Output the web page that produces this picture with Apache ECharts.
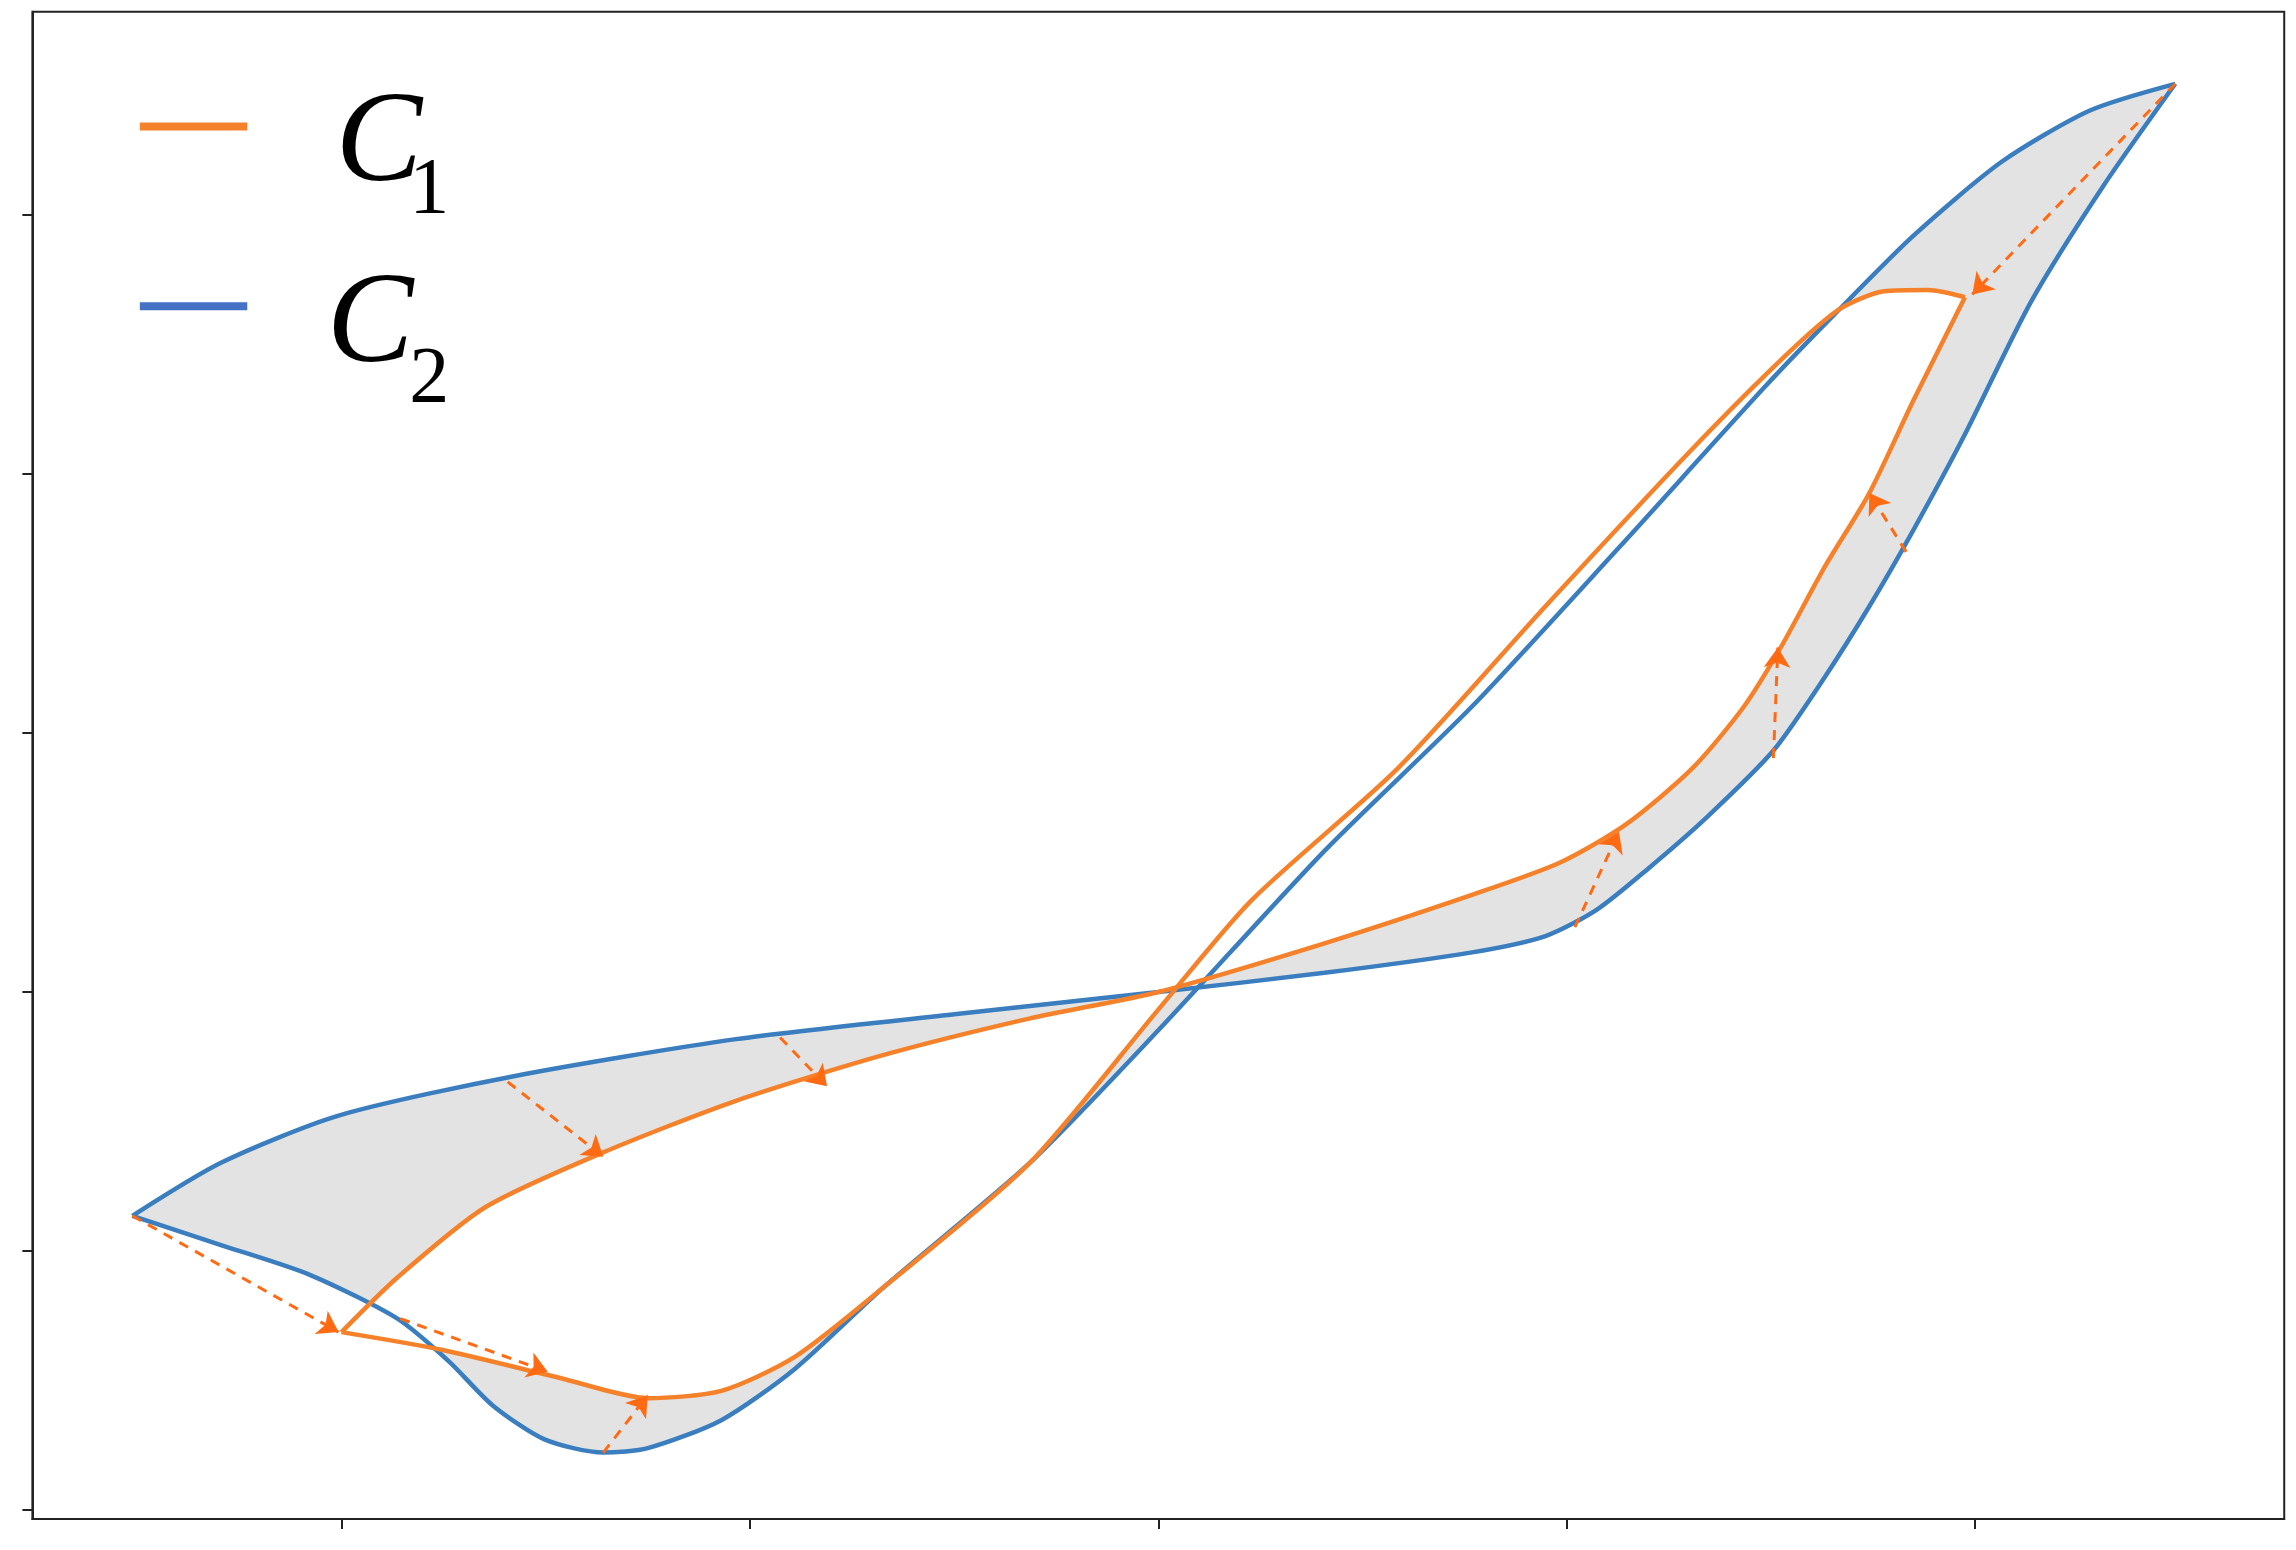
<!DOCTYPE html>
<html><head><meta charset="utf-8">
<script src="https://cdn.jsdelivr.net/npm/echarts@6/dist/echarts.min.js"></script>
<style>html,body{margin:0;padding:0;background:#fff}#c{width:2296px;height:1550px}</style>
</head><body><div id="c"></div>
<script>
// values in image units, converted to axis units (x: tick spacing 277.5 around 787; y: 176 around 674)
const X0=787, XS=277.5, Y0=674, YS=176;
function toData(p){return p.map(([a,b])=>[+((a-X0)/XS).toFixed(3), +((Y0-b)/YS).toFixed(3)]);}
const c2ArcA = toData([[90,826],[150,790],[230,758],[350,731],[500,706],[650,689],[787,674],[900,661],[1000,647],[1050,636],[1085,618],[1120,590],[1160,555],[1205,510],[1240,460],[1270,412],[1300,360],[1335,295],[1380,205],[1430,125],[1478,57]]);
const c2ArcB = toData([[1478,57],[1420,75],[1360,110],[1300,160],[1250,210],[1200,262],[1100,372],[1000,480],[900,578],[787,700],[700,790],[600,875],[540,930],[490,965],[440,984],[410,987],[370,978],[335,955],[305,925],[270,896],[210,866],[150,846],[90,826]]);
const c1ArcA = toData([[232,905],[270,868],[330,820],[410,783],[500,748],[600,717],[700,692],[787,674],[900,641],[1000,608],[1060,586],[1105,560],[1150,522],[1185,480],[1210,440],[1240,385],[1270,335],[1300,272],[1335,202]]);
const c1ArcB = toData([[1335,202],[1310,197],[1280,198],[1250,210],[1215,240],[1150,305],[1050,412],[950,522],[850,612],[787,686],[700,790],[600,875],[540,922],[490,945],[440,950],[380,936],[300,917],[232,905]]);
const arrows = [[[90,826],[230,905]],[[272,896],[372,932]],[[410,987],[440,948]],[[345,735],[410,786]],[[530,705],[562,738]],[[1070,630],[1100,565]],[[1205,515],[1208,440]],[[1295,375],[1270,335]],[[1478,57],[1340,200]]].map(toData);
const xTicks=[-2,-1,0,1,2], yTicks=[-2,-1,0,1,2,3];
const ORANGE='#f5822a', BLUE='#3a7ebf';
const S=2296/1560;
const poly=(pts,fill)=>({type:'custom',silent:true,z:1,data:[0],renderItem:(p,api)=>({type:'polygon',shape:{points:pts.map(q=>api.coord(q))},style:{fill:fill}})});
const line=(d,c,z)=>({type:'line',data:d,smooth:0.25,symbol:'none',lineStyle:{color:c,width:4.5},z:z,silent:true});
const chart=echarts.init(document.getElementById('c'));
chart.setOption({
 animation:false,
 grid:{left:22*S,right:2296-1552*S,top:8*S,bottom:1550-1032*S},
 xAxis:{type:'value',min:(22-X0)/XS,max:(1552-X0)/XS,splitLine:{show:false},axisLabel:{show:false},
   axisLine:{show:true,onZero:false,lineStyle:{color:'#222',width:2}},axisTick:{show:true,customValues:xTicks,length:10,lineStyle:{color:'#222',width:2}}},
 yAxis:{type:'value',min:(Y0-1032)/YS,max:(Y0-8)/YS,splitLine:{show:false},axisLabel:{show:false},
   axisLine:{show:true,onZero:false,lineStyle:{color:'#222',width:2}},axisTick:{show:true,customValues:yTicks,length:10,lineStyle:{color:'#222',width:2}}},
 graphic:[
  {type:'rect',shape:{x:22*S,y:8*S,width:1530*S,height:1024*S},style:{fill:'none',stroke:'#222',lineWidth:2},z:100},
  {type:'line',shape:{x1:95*S,y1:86*S,x2:168*S,y2:86*S},style:{stroke:ORANGE,lineWidth:8}},
  {type:'line',shape:{x1:95*S,y1:208*S,x2:168*S,y2:208*S},style:{stroke:'#4472c4',lineWidth:8}},
  {type:'text',left:228*S,top:55*S,style:{text:'C',font:'italic 130px "Liberation Serif"',fill:'#000'}},
  {type:'text',left:278*S,top:103*S,style:{text:'1',font:'80px "Liberation Serif"',fill:'#000'}},
  {type:'text',left:222*S,top:178*S,style:{text:'C',font:'italic 130px "Liberation Serif"',fill:'#000'}},
  {type:'text',left:278*S,top:232*S,style:{text:'2',font:'80px "Liberation Serif"',fill:'#000'}},
  {type:'text',left:214*S,top:775*S,style:{text:'Δ',font:'62px "Liberation Serif"',fill:'#000'}},
  {type:'text',left:250*S,top:775*S,style:{text:'S',font:'italic 62px "Liberation Serif"',fill:'#000'}}
 ],
 series:[
  poly(c2ArcA.concat(c2ArcB),'#e3e3e3'),
  Object.assign(poly(c1ArcA.concat(c1ArcB),'#ffffff'),{z:2}),
  line(c2ArcA,BLUE,3),line(c2ArcB,BLUE,3),
  line(c1ArcA,ORANGE,4),line(c1ArcB,ORANGE,4),
  {type:'lines',coordinateSystem:'cartesian2d',z:5,silent:true,symbol:['none','arrow'],symbolSize:20,
   lineStyle:{color:'#ff6a13',width:3,type:[10,8],opacity:1},data:arrows.map(a=>({coords:a}))}
 ]
});
</script></body></html>
